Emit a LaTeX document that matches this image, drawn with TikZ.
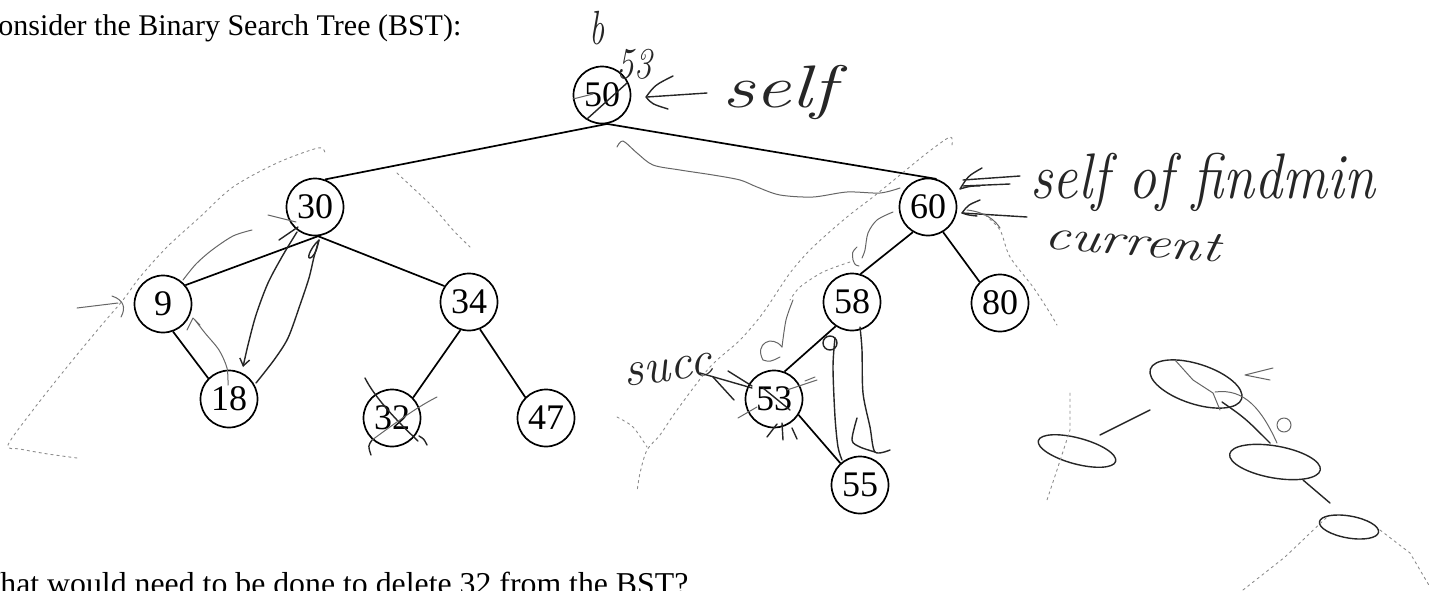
\documentclass[tikz,border=0pt]{standalone}
\usepackage{fontspec}
\setmainfont{Liberation Serif}
\newfontfamily\handfont{Latin Modern Roman}
\usetikzlibrary{arrows.meta}
\begin{document}
\begin{tikzpicture}[x=0.5pt,y=-0.5pt,
  bst/.style={circle,draw,line width=0.85pt,minimum size=28.5pt,inner sep=0pt,font=\fontsize{18}{18}\selectfont},
  edge/.style={line width=0.85pt},
  pen/.style={line width=0.7pt,black!85,line cap=round,line join=round},
  penlight/.style={line width=0.5pt,black!60,line cap=round,line join=round},
  pencil/.style={line width=0.45pt,black!45,dash pattern=on 1.2pt off 1.8pt,line cap=round},
  hand/.style={inner sep=0pt,text=black!85,font=\handfont\itshape},
  barb/.style={-{Straight Barb[length=3.5pt,width=5pt]}},
  ]
\useasboundingbox (0,0) rectangle (1442,590);
\clip (0,0) rectangle (1442,590);

% printed text
\node[anchor=base west,inner sep=0pt,font=\fontsize{15}{15}\selectfont] (top) at (-22,35) {Consider the Binary Search Tree (BST):};
\node[anchor=base west,inner sep=0pt,font=\fontsize{15.9}{16}\selectfont] (bottom) at (-30,594) {What would need to be done to delete 32 from the BST?};

% tree nodes
\node[bst] (n50) at (602,95) {50};
\node[bst] (n30) at (315,207) {30};
\node[bst] (n60) at (928,207) {60};
\node[bst] (n9) at (163,304) {9};
\node[bst] (n34) at (469,302) {34};
\node[bst] (n58) at (852,302) {58};
\node[bst] (n80) at (1000,303) {80};
\node[bst] (n18) at (229,399) {18};
\node[bst] (n32) at (392,418) {32};
\node[bst] (n47) at (546,418) {47};
\node[bst] (n53) at (774,399) {53};
\node[bst] (n55) at (860,485) {55};

% tree edges
\draw[edge] (n50.-80) -- (n30.70);
\draw[edge] (n50.-80) -- (n60.73);
\draw[edge] (n30.-84) -- (n9.40);
\draw[edge] (n30.-84) -- (n34.147);
\draw[edge] (n9.-70) -- (n18.135);
\draw[edge] (n34.-107) -- (n32.44);
\draw[edge] (n34.-68) -- (n47.135);
\draw[edge] (n60.-121) -- (n58.73);
\draw[edge] (n60.-59) -- (n80.134);
\draw[edge] (n58.-124) -- (n53.69);
\draw[edge] (n53.-33) -- (n55.132);

% ---- handwritten annotations ----
% near 50
\node[hand,font=\handfont\itshape\fontsize{24}{24}\selectfont,xscale=0.7] (hb) at (597,28) {b};
\node[hand,font=\handfont\itshape\fontsize{22}{22}\selectfont,xscale=0.8] (h53) at (634,64) {53};
\node[hand,anchor=base west,font=\handfont\itshape\fontsize{30}{30}\selectfont,xscale=1.35] (hself) at (722,107) {self};
\draw[pen] (673,76) .. controls (655,85) .. (646,97) .. controls (652,104) .. (668,109);
\draw[pen] (647,97) -- (707,93);
\draw[pen] (587,119) -- (627,83);
\draw[penlight] (573,99) -- (593,94);

% near 60
\node[hand,anchor=base west,font=\handfont\itshape\fontsize{28}{28}\selectfont,yscale=1.15] (hsfm) at (1030,198) {self of findmin};
\node[hand,anchor=base west,font=\handfont\itshape\fontsize{22}{22}\selectfont,xscale=1.3,rotate=-6] (hcur) at (1043,248) {current};
\draw[pen] (982,168) .. controls (968,176) .. (960,189) .. controls (970,186) .. (980,186);
\draw[pen] (963,180) -- (1020,176);
\draw[pen] (963,186) -- (1010,184);
\draw[pen] (980,200) .. controls (968,205) .. (962,213) .. controls (968,215) .. (977,216);
\draw[pen] (962,213) -- (1027,217);
\draw[penlight] (967,210) .. controls (985,212) and (995,220) .. (1000,228);

% succ near 53
\node[hand,font=\handfont\itshape\fontsize{25}{25}\selectfont,rotate=8] (hsucc) at (668,370) {succ};
\draw[pen] (700,373) -- (752,388);
\draw[pen] (713,377) -- (734,400);
\draw[pen] (728,371) .. controls (740,378) .. (752,386);
\draw[penlight] (738,418) -- (757,407);
\draw[penlight] (787,390) -- (817,380);
\draw[penlight] (805,381) -- (815,377);
\draw[pen] (767,437) -- (777,424);
\draw[pen] (783,440) -- (782,423);
\draw[pen] (792,428) -- (797,439);
\draw[pen] (763,388) -- (790,410);

% 32 crossed
\draw[pen] (365,378) .. controls (375,398) and (398,422) .. (418,441);
\draw[penlight] (437,397) .. controls (415,408) and (390,427) .. (372,440);
\draw[pen] (372,440) .. controls (368,446) .. (371,455);
\draw[pen] (419,436) .. controls (424,439) .. (427,445);

% left of tree
\draw[pencil] plot[smooth] coordinates {(77,458) (48,454) (20,449) (8,445) (33,410) (67,367) (100,327) (123,300) (140,277) (167,247) (200,217) (233,187) (277,163) (318,148) (325,153)};
\draw[penlight] (77,308) -- (118,303);
\draw[penlight] (112,296) .. controls (124,300) and (126,308) .. (121,317);
\draw[penlight] plot[smooth] coordinates {(183,280) (196,264) (212,250) (233,236) (252,230)};
\draw[pen,barb] plot[smooth] coordinates {(297,232) (283,255) (268,283) (256,315) (248,345) (243,367)};
\draw[pen] plot[smooth] coordinates {(256,383) (274,360) (288,338) (300,305) (309,278) (314,257) (319,240)};
\draw[pen] (319,240) .. controls (310,248) and (305,262) .. (312,257) .. controls (316,252) .. (319,240);
\draw[penlight] (268,215) -- (296,222);
\draw[pen] (279,240) -- (298,227);
\draw[penlight] plot[smooth] coordinates {(228,385) (227,368) (219,350) (205,333) (195,320)};
\draw[penlight] (187,330) -- (193,318) -- (200,325);
\draw[pencil] plot[smooth] coordinates {(397,173) (413,188) (433,207) (453,230) (470,247)};

% under 50 / right part
\draw[penlight] plot[smooth] coordinates {(617,147) (623,141) (637,153) (653,165) (680,170) (713,175) (740,180) (757,187) (780,195) (813,197) (847,192) (880,193) (900,188)};
\draw[pencil] plot[smooth] coordinates {(952,145) (950,137) (927,153) (900,175) (873,197) (847,217) (813,247) (790,273) (763,313) (740,340) (710,367) (677,410) (660,435) (647,450) (640,473) (637,492)};
\draw[pencil] plot[smooth] coordinates {(617,417) (633,427) (647,447)};
\draw[penlight] plot[smooth] coordinates {(893,212) (877,220) (868,233) (865,250) (862,258)};
\draw[penlight] (857,247) .. controls (852,252) .. (853,260) .. controls (855,265) .. (859,266);
\draw[pencil] plot[smooth] coordinates {(850,262) (823,272) (800,287) (790,300)};
\draw[penlight] plot[smooth] coordinates {(793,300) (786,320) (782,347)};
\draw[penlight] (782,347) .. controls (772,334) and (754,344) .. (763,360) .. controls (770,362) .. (780,357);
\draw[pencil] plot[smooth] coordinates {(985,215) (1000,230) (1010,257) (1033,287) (1050,313) (1057,325)};

% 58 -> 55 strokes
\draw[pen] (830,343) circle [radius=7];
\draw[pen] plot[smooth] coordinates {(835,338) (833,367) (835,417) (838,447) (842,460)};
\draw[pen] plot[smooth] coordinates {(860,327) (862,350) (863,393) (870,427) (875,452) (890,450)};
\draw[pen] plot[smooth] coordinates {(857,418) (852,440) (860,447) (875,452)};

% bottom-right sketch
\draw[pen,rotate around={-18:(1196,384)}] (1196,384) ellipse [x radius=48, y radius=20];
\draw[pen,rotate around={-15:(1077,451)}] (1077,451) ellipse [x radius=40, y radius=13];
\draw[pen,rotate around={-10:(1275,462)}] (1275,462) ellipse [x radius=46, y radius=16];
\draw[pen,rotate around={-10:(1349,527)}] (1349,527) ellipse [x radius=30, y radius=11];
\draw[pen] (1150,410) -- (1100,435);
\draw[pen] (1222,402) .. controls (1245,418) .. (1270,443);
\draw[penlight] (1215,392) .. controls (1245,388) and (1262,410) .. (1277,443);
\draw[penlight] (1284,425) circle [radius=7];
\draw[pen] (1303,480) -- (1330,503);
\draw[penlight] (1175,360) -- (1193,380) -- (1213,393) -- (1220,410);
\draw[penlight] (1273,368) -- (1245,375) -- (1270,380);
\draw[pencil] (1070,393) -- (1070,430) -- (1057,470) -- (1047,500);
\draw[pencil] (1243,590) -- (1285,557) -- (1327,517);
\draw[pencil] (1380,530) -- (1410,553) -- (1430,587);
\end{tikzpicture}
\end{document}
